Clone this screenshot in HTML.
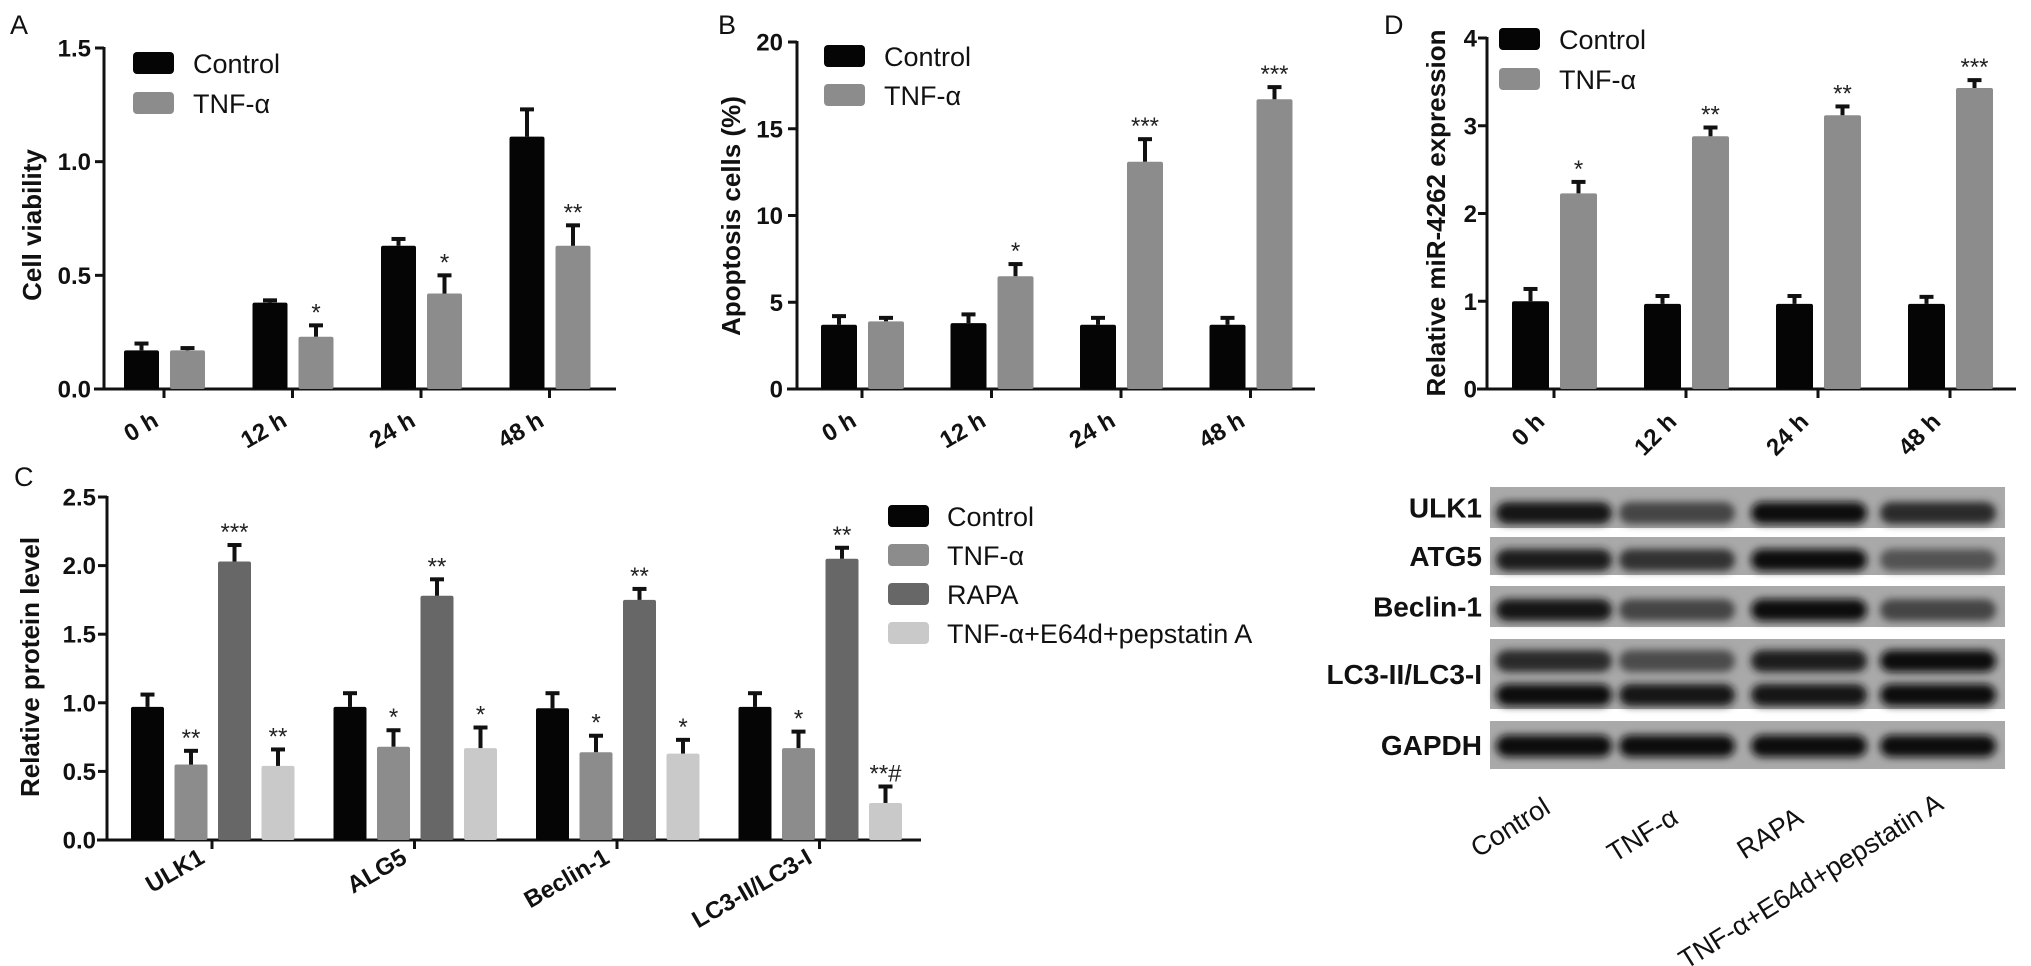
<!DOCTYPE html>
<html><head><meta charset="utf-8">
<style>
html,body{margin:0;padding:0;background:#fff;}
svg{display:block;font-family:"Liberation Sans",Arial,sans-serif;}
</style></head>
<body>
<svg id="fig" xmlns="http://www.w3.org/2000/svg" width="2031" height="966" viewBox="0 0 2031 966">
<defs>
<filter id="blur" x="-20%" y="-50%" width="140%" height="200%"><feGaussianBlur stdDeviation="4"/></filter>
</defs>
<g id="root"></g>
</svg>
<script>
// ---- Panel A data ----
const aCategories = ['0 h','12 h','24 h','48 h'];
const aControl = [0.17, 0.38, 0.63, 1.11];
const aControlErr = [0.03, 0.01, 0.03, 0.12];
const aTnf = [0.17, 0.23, 0.42, 0.63];
const aTnfErr = [0.01, 0.05, 0.08, 0.09];
const aStars = ['', '*', '*', '**'];
const aTicks = ['0.0','0.5','1.0','1.5'];
const aTickVals = [0, 0.5, 1.0, 1.5];
// ---- Panel B data ----
const bCategories = ['0 h','12 h','24 h','48 h'];
const bControl = [3.7, 3.8, 3.7, 3.7];
const bControlErr = [0.5, 0.5, 0.4, 0.4];
const bTnf = [3.9, 6.5, 13.1, 16.7];
const bTnfErr = [0.2, 0.7, 1.3, 0.7];
const bStars = ['', '*', '***', '***'];
const bTicks = ['0','5','10','15','20'];
const bTickVals = [0, 5, 10, 15, 20];
// ---- Panel D data ----
const dCategories = ['0 h','12 h','24 h','48 h'];
const dControl = [1.0, 0.97, 0.97, 0.97];
const dControlErr = [0.14, 0.09, 0.09, 0.08];
const dTnf = [2.23, 2.88, 3.12, 3.43];
const dTnfErr = [0.13, 0.10, 0.10, 0.09];
const dStars = ['*', '**', '**', '***'];
const dTicks = ['0','1','2','3','4'];
const dTickVals = [0, 1, 2, 3, 4];
// ---- Panel C data ----
const cCategories = ['ULK1','ALG5','Beclin-1','LC3-II/LC3-I'];
const cControl = [0.97, 0.97, 0.96, 0.97];
const cControlErr = [0.09, 0.10, 0.11, 0.10];
const cTnf = [0.55, 0.68, 0.64, 0.67];
const cTnfErr = [0.10, 0.12, 0.12, 0.12];
const cRapa = [2.03, 1.78, 1.75, 2.05];
const cRapaErr = [0.12, 0.12, 0.08, 0.08];
const cE64 = [0.54, 0.67, 0.63, 0.27];
const cE64Err = [0.12, 0.15, 0.10, 0.12];
const cTnfStars = ['**','*','*','*'];
const cRapaStars = ['***','**','**','**'];
const cE64Stars = ['**','*','*','**#'];
const cTicks = ['0.0','0.5','1.0','1.5','2.0','2.5'];
const cTickVals = [0, 0.5, 1.0, 1.5, 2.0, 2.5];
// ---- Blot ----
const blotRows = ['ULK1','ATG5','Beclin-1','LC3-II/LC3-I','GAPDH'];
const blotLanes = ['Control','TNF-α','RAPA','TNF-α+E64d+pepstatin A'];

const NS = 'http://www.w3.org/2000/svg';
const root = document.getElementById('root');
function mk(tag, attrs, parent) {
  const e = document.createElementNS(NS, tag);
  for (const k in attrs) e.setAttribute(k, attrs[k]);
  (parent || root).appendChild(e);
  return e;
}
function txt(s, attrs, parent) { const t = mk('text', attrs, parent); t.textContent = s; return t; }

function axes(p) {
  const g = mk('g', {});
  
  
  const ys = v => p.y0 - v / p.max * (p.y0 - p.yTop);
  const yl = mk('line', {x1: p.x0, y1: p.yTop - 1, x2: p.x0, y2: p.y0 + 1.5, stroke: '#111', 'stroke-width': 3}, g);
  
  
  const xl = mk('line', {x1: p.x0 - 10, y1: p.y0, x2: p.xEnd, y2: p.y0, stroke: '#111', 'stroke-width': 3}, g);
  
  
  p.tickVals.forEach((v, i) => {
    const y = ys(v);
    mk('line', {x1: p.x0 - 9, y1: y, x2: p.x0, y2: y, stroke: '#111', 'stroke-width': 3}, g);
    const t = txt(p.ticks[i], {x: p.labelRight, y: y + 8.5, 'text-anchor': 'end', 'font-size': 24, 'font-weight': 'bold', fill: '#111'}, g);
    
    
  });
  p.cats.forEach((c, i) => {
    const x = p.tickX(i);
    mk('line', {x1: x, y1: p.y0, x2: x, y2: p.y0 + 9, stroke: '#111', 'stroke-width': 3}, g);
    const lx = x + p.labelDx, ly = p.y0 + p.labelDy;
    const t = txt(c, {x: lx, y: ly, 'text-anchor': 'end', 'font-size': 24, 'font-weight': 'bold', fill: '#111', transform: `rotate(${p.labelAngle} ${lx} ${ly})`}, g);
    
    
  });
  const tt = txt(p.title, {x: p.titleX, y: p.titleY, 'text-anchor': 'middle', 'font-size': 26, 'font-weight': 'bold', fill: '#111', transform: `rotate(-90 ${p.titleX} ${p.titleY})`, 'dominant-baseline': 'central'}, g);
  
  
  const pl = txt(p.panel, {x: p.panelX, y: p.panelY, 'font-size': 27, fill: '#111'}, g);
  
  
  return ys;
}

function bar(id, x, w, y0, yTop, yErr, color, star) {
  const g = mk('g', {});
  
  
  const r = mk('rect', {x: x, y: yTop, width: w, height: y0 - yTop, fill: color, rx: 2}, g);
  
  
  const cx = x + w / 2;
  mk('line', {x1: cx, y1: yTop, x2: cx, y2: yErr, stroke: '#111', 'stroke-width': 4}, g);
  mk('line', {x1: cx - 7, y1: yErr, x2: cx + 7, y2: yErr, stroke: '#111', 'stroke-width': 4}, g);
  if (star) {
    const s = txt(star, {x: cx, y: yErr - 5, 'text-anchor': 'middle', 'font-size': 24, fill: '#222'}, g);
    
    
  }
}

function legend(id, x, yRows, labels, colors, textX) {
  const g = mk('g', {});
  
  
  labels.forEach((l, i) => {
    const y = yRows[i];
    const r = mk('rect', {x: x, y: y, width: 41, height: 22, rx: 4, fill: colors[i]}, g);
    
    
    const t = txt(l, {x: textX, y: y + 21, 'font-size': 27, fill: '#111'}, g);
    
    
  });
}

const BLACK = '#050505', GRAY = '#8c8c8c', DARK = '#676767', LIGHT = '#c9c9c9';

function twoSeriesPanel(cfg) {
  const tickX = i => cfg.firstTick + i * cfg.pitch;
  const ys = axes({id: cfg.id, x0: cfg.x0, xEnd: cfg.xEnd, y0: 389, yTop: cfg.yTop, max: cfg.max,
    ticks: cfg.ticks, tickVals: cfg.tickVals, labelRight: cfg.labelRight, title: cfg.title,
    titleX: cfg.titleX, titleY: cfg.titleY, cats: cfg.cats, tickX: tickX,
    labelAngle: cfg.angle, labelDx: cfg.ldx, labelDy: cfg.ldy, panel: cfg.panel, panelX: cfg.panelX, panelY: 34});
  cfg.cats.forEach((c, i) => {
    const t = tickX(i);
    bar(cfg.id + '-bar-control-' + i, t - cfg.bw - 5, cfg.bw, 389, ys(cfg.ctrl[i]), ys(cfg.ctrl[i] + cfg.ctrlErr[i]), BLACK, '');
    bar(cfg.id + '-bar-tnf-' + i, t + 6, cfg.bw, 389, ys(cfg.tnf[i]), ys(cfg.tnf[i] + cfg.tnfErr[i]), GRAY, cfg.stars[i]);
  });
  legend(cfg.id + '-legend', cfg.legX, cfg.legY, ['Control', 'TNF-α'], [BLACK, GRAY], cfg.legX + 60);
}

twoSeriesPanel({id: 'panel-a', x0: 104, xEnd: 616, yTop: 48, max: 1.5, ticks: aTicks, tickVals: aTickVals,
  labelRight: 91, title: 'Cell viability', titleX: 32, titleY: 225, cats: aCategories,
  firstTick: 164, pitch: 128.5, bw: 35, ctrl: aControl, ctrlErr: aControlErr, tnf: aTnf, tnfErr: aTnfErr, stars: aStars,
  angle: -30, ldx: -4, ldy: 36, panel: 'A', panelX: 10, legX: 133, legY: [52, 92]});

twoSeriesPanel({id: 'panel-b', x0: 797, xEnd: 1315, yTop: 42, max: 20, ticks: bTicks, tickVals: bTickVals,
  labelRight: 783, title: 'Apoptosis cells (%)', titleX: 731, titleY: 216, cats: bCategories,
  firstTick: 862, pitch: 129.5, bw: 36, ctrl: bControl, ctrlErr: bControlErr, tnf: bTnf, tnfErr: bTnfErr, stars: bStars,
  angle: -30, ldx: -4, ldy: 36, panel: 'B', panelX: 718, legX: 824, legY: [45, 84]});

twoSeriesPanel({id: 'panel-d', x0: 1487, xEnd: 2016, yTop: 38, max: 4, ticks: dTicks, tickVals: dTickVals,
  labelRight: 1477, title: 'Relative miR-4262 expression', titleX: 1436, titleY: 213, cats: dCategories,
  firstTick: 1554, pitch: 132, bw: 37, ctrl: dControl, ctrlErr: dControlErr, tnf: dTnf, tnfErr: dTnfErr, stars: dStars,
  angle: -45, ldx: -8, ldy: 34, panel: 'D', panelX: 1384, legX: 1499, legY: [28, 68]});

// ---- Panel C ----
(function () {
  const tickX = i => 212 + i * 202.5;
  const ys = axes({id: 'panel-c', x0: 107, xEnd: 921, y0: 840, yTop: 497, max: 2.5,
    ticks: cTicks, tickVals: cTickVals, labelRight: 96, title: 'Relative protein level',
    titleX: 30, titleY: 667, cats: cCategories, tickX: tickX, labelAngle: -30, labelDx: -6, labelDy: 22,
    panel: 'C', panelX: 14, panelY: 486});
  const series = [[cControl, cControlErr, BLACK, null, 'control'], [cTnf, cTnfErr, GRAY, cTnfStars, 'tnf'],
                  [cRapa, cRapaErr, DARK, cRapaStars, 'rapa'], [cE64, cE64Err, LIGHT, cE64Stars, 'e64d']];
  cCategories.forEach((c, i) => {
    const t = tickX(i);
    series.forEach((s, k) => {
      const x = t - 81 + k * 43.5;
      bar('panel-c-bar-' + s[4] + '-' + i, x, 33, 840, ys(s[0][i]), ys(s[0][i] + s[1][i]), s[2], s[3] ? s[3][i] : '');
    });
  });
  legend('panel-c-legend', 888, [505, 544, 583, 622], ['Control', 'TNF-α', 'RAPA', 'TNF-α+E64d+pepstatin A'],
    [BLACK, GRAY, DARK, LIGHT], 947);
})();

// ---- Western blot ----
(function () {
  const g = mk('g', {});
  
  
  const left = 1490, right = 2005;
  const strips = [[487, 528], [537, 575], [586, 627], [639, 709], [721, 769]];
  const laneX = [1554, 1677, 1809, 1938];
  const bands = [
    [[513, [0.95, 0.6, 1.0, 0.8]]],
    [[560, [0.9, 0.75, 1.0, 0.5]]],
    [[610, [0.97, 0.6, 1.0, 0.6]]],
    [[661, [0.8, 0.55, 0.9, 1.0]], [695, [1.0, 0.95, 0.95, 1.0]]],
    [[746, [1.0, 1.0, 1.0, 1.0]]]
  ];
  strips.forEach((s, i) => {
    const st = mk('g', {}, g);
    
    
    mk('rect', {x: left, y: s[0], width: right - left, height: s[1] - s[0], fill: '#a9a9a9'}, st);
    bands[i].forEach(b => {
      laneX.forEach((x, j) => {
        const d = b[1][j];
        const c = Math.round(150 - d * 135);
        mk('rect', {x: x - 58, y: b[0] - 11, width: 116, height: 22, rx: 11, fill: `rgb(${c},${c},${c})`, filter: 'url(#blur)'}, st);
      });
    });
    const lab = txt(blotRows[i], {x: 1482, y: (s[0] + s[1]) / 2 + 10, 'text-anchor': 'end', 'font-size': 28, 'font-weight': 'bold', fill: '#111'}, g);
    
    
  });
  const ends = [[1552, 812], [1680, 822], [1805, 822], [1945, 808]];
  blotLanes.forEach((l, i) => {
    const [x, y] = ends[i];
    const t = txt(l, {x: x, y: y, 'text-anchor': 'end', 'font-size': 27, fill: '#111', transform: `rotate(-32 ${x} ${y})`}, g);
    
    
  });
})();
</script>
</body></html>
